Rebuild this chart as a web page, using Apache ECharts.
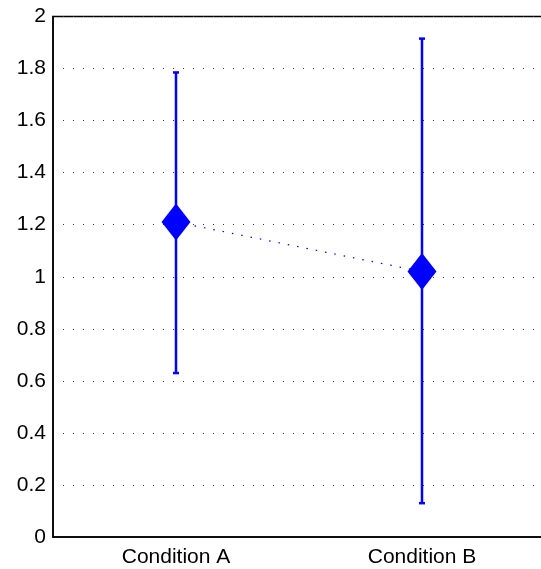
<!DOCTYPE html>
<html>
<head>
<meta charset="utf-8">
<script src="https://cdn.jsdelivr.net/npm/echarts@6/dist/echarts.min.js"></script>
<style>
html,body{margin:0;padding:0;background:#fff;}
#chart{width:541px;height:569px;}
</style>
</head>
<body>
<div id="chart"></div>
<script>
var categories = ['Condition A', 'Condition B'];
var means = [1.21, 1.02];
var lowerBounds = [0.63, 0.13];
var upperBounds = [1.785, 1.915];
var yTicks = [0, 0.2, 0.4, 0.6, 0.8, 1, 1.2, 1.4, 1.6, 1.8, 2];

var chart = echarts.init(document.getElementById('chart'));
var fontFamily = '"Liberation Sans", Arial, Helvetica, sans-serif';

var errorData = categories.map(function (c, i) { return [i, lowerBounds[i], upperBounds[i]]; });

chart.setOption({
  animation: false,
  backgroundColor: '#fff',
  grid: {
    left: 53, top: 16.5, width: 492, bottom: 32,
    outerBoundsMode: 'none',
    containLabel: false,
    show: true, borderColor: '#000', borderWidth: 1.5, backgroundColor: 'transparent'
  },
  xAxis: {
    type: 'category',
    data: categories,
    boundaryGap: true,
    axisLine: { show: true, lineStyle: { color: '#000', width: 1.5 } },
    axisTick: { show: false },
    axisLabel: { color: '#000', fontSize: 21, fontFamily: fontFamily, margin: 10 },
    splitLine: { show: false }
  },
  yAxis: {
    type: 'value',
    min: 0, max: 2, interval: 0.2,
    axisLine: { show: true, lineStyle: { color: '#000', width: 1.5 } },
    axisTick: { show: false },
    axisLabel: {
      color: '#000', fontSize: 21, fontFamily: fontFamily, margin: 7,
      formatter: function (v) {
        for (var k = 0; k < yTicks.length; k++) {
          if (Math.abs(yTicks[k] - v) < 1e-9) return String(yTicks[k]);
        }
        return '';
      }
    },
    splitLine: { show: true, lineStyle: { color: '#333', width: 1, type: [1, 9] } }
  },
  series: [
    {
      type: 'custom',
      data: errorData,
      z: 3,
      renderItem: function (params, api) {
        var x = api.value(0);
        var lo = api.coord([x, api.value(1)]);
        var hi = api.coord([x, api.value(2)]);
        var cw = 3;
        var style = { stroke: '#0000ff', lineWidth: 2.5 };
        return {
          type: 'group',
          children: [
            { type: 'line', shape: { x1: lo[0], y1: lo[1], x2: hi[0], y2: hi[1] }, style: style },
            { type: 'line', shape: { x1: lo[0] - cw, y1: lo[1], x2: lo[0] + cw, y2: lo[1] }, style: style },
            { type: 'line', shape: { x1: hi[0] - cw, y1: hi[1], x2: hi[0] + cw, y2: hi[1] }, style: style }
          ]
        };
      }
    },
    {
      type: 'line',
      data: means,
      showSymbol: false,
      symbol: 'none',
      z: 2,
      lineStyle: { color: '#0000ff', width: 1.2, type: [1.5, 8] }
    },
    {
      type: 'scatter',
      data: means,
      symbol: 'diamond',
      symbolSize: [29, 37],
      z: 4,
      itemStyle: { color: '#0000ff', opacity: 1 }
    }
  ]
});
</script>
</body>
</html>
